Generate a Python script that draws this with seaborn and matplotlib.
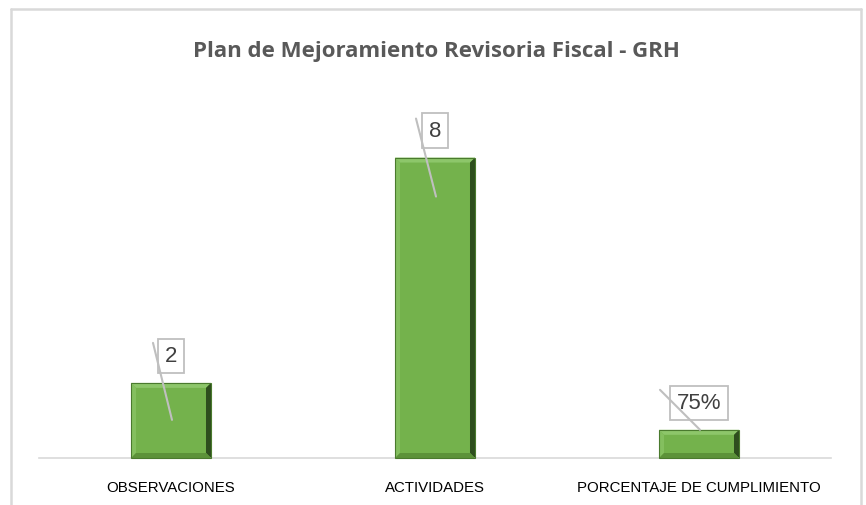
import matplotlib
matplotlib.use("Agg")
import matplotlib.pyplot as plt
import numpy as np
import pandas as pd
import seaborn as sns
from matplotlib.patches import Polygon, Rectangle

categories = ["OBSERVACIONES", "ACTIVIDADES", "PORCENTAJE DE CUMPLIMIENTO"]
values = [2, 8, 0.75]
value_labels = ["2", "8", "75%"]
title = "Plan de Mejoramiento Revisoria Fiscal - GRH"

GREEN = "#74B24C"
sns.set_theme(style="white")
plt.rcParams["font.family"] = ["Open Sans", "DejaVu Sans"]

df = pd.DataFrame({"cat": categories, "val": values})

fig = plt.figure(figsize=(8.66, 5.06), dpi=100)
ax = fig.add_axes([39 / 866, 1 - 459 / 506, (831 - 39) / 866, (459 - 121) / 506])
sns.barplot(data=df, x="cat", y="val", color=GREEN, width=0.303,
            saturation=1, ax=ax)
ax.set_xlim(-0.5, 2.5)
ax.set_ylim(0, 9)
ax.set_xlabel(""); ax.set_ylabel("")
ax.set_yticks([])
for s in ["left", "right", "top"]:
    ax.spines[s].set_visible(False)
ax.spines["bottom"].set_color("#D9D9D9")
ax.spines["bottom"].set_linewidth(1.2)
ax.tick_params(axis="x", length=0, pad=15.5, labelsize=10.8, labelcolor="#000000")
for t in ax.get_xticklabels():
    t.set_fontfamily(["Liberation Sans", "DejaVu Sans"])

fig.canvas.draw()

# bevel on every bar (pixel-sized edges, drawn in display space)
bev = 5
for p in ax.patches:
    (x0, y0), (x1, y1) = ax.transData.transform([(p.get_x(), 0),
                                                 (p.get_x() + p.get_width(), p.get_height())])
    b = min(bev, (y1 - y0) / 3)
    faces = [
        ([(x0, y1), (x1, y1), (x1 - b, y1 - b), (x0 + b, y1 - b)], "#8DC66A"),  # top
        ([(x0, y0), (x0, y1), (x0 + b, y1 - b), (x0 + b, y0 + b)], "#84BF5F"),  # left
        ([(x1, y0), (x1, y1), (x1 - b, y1 - b), (x1 - b, y0 + b)], "#2E4E1E"),  # right
        ([(x0, y0), (x1, y0), (x1 - b, y0 + b), (x0 + b, y0 + b)], "#5C9239"),  # bottom
    ]
    for pts, c in faces:
        fig.patches.append(Polygon(pts, closed=True, transform=None,
                                   facecolor=c, edgecolor="none", zorder=3))
    fig.patches.append(Rectangle((x0, y0), x1 - x0, y1 - y0, transform=None,
                                 fill=False, edgecolor="#4A7A2E", lw=0.8, zorder=3))

# data callouts with a single straight leader line (Excel style)
leaders = [(-18, 40, -37), (-19, 39, -39), (-39, 40, 0)]  # start dx, start dy, end dy (px)
for i, (v, lab) in enumerate(zip(values, value_labels)):
    dx, up, down = leaders[i]
    bx, by = ax.transData.transform((i, v))
    fig.add_artist(plt.Line2D([bx + dx, bx + 1], [by + up, by + down], transform=None,
                              color="#BFBFBF", lw=1.5, zorder=5))
    ax.annotate(lab, xy=(i, v), xytext=(0, 27 * 0.72), textcoords="offset points",
                ha="center", va="center", fontsize=16, color="#404040",
                family=["Liberation Sans", "DejaVu Sans"],
                bbox=dict(boxstyle="square,pad=0.3", fc="white", ec="#BFBFBF", lw=1.3),
                zorder=6)

fig.text(436 / 866, 1 - 51 / 506, title, ha="center", va="center",
         fontsize=16, fontweight="bold", color="#595959")

# outer chart frame
for (xa, ya), (xb, yb) in [((11, 0), (11, 496)), ((11, 496), (861, 496)), ((861, 496), (861, 0))]:
    fig.add_artist(plt.Line2D([xa / 866, xb / 866], [ya / 506, yb / 506],
                              color="#D9D9D9", lw=1.8, transform=fig.transFigure))

fig.savefig("out.png", dpi=100)
